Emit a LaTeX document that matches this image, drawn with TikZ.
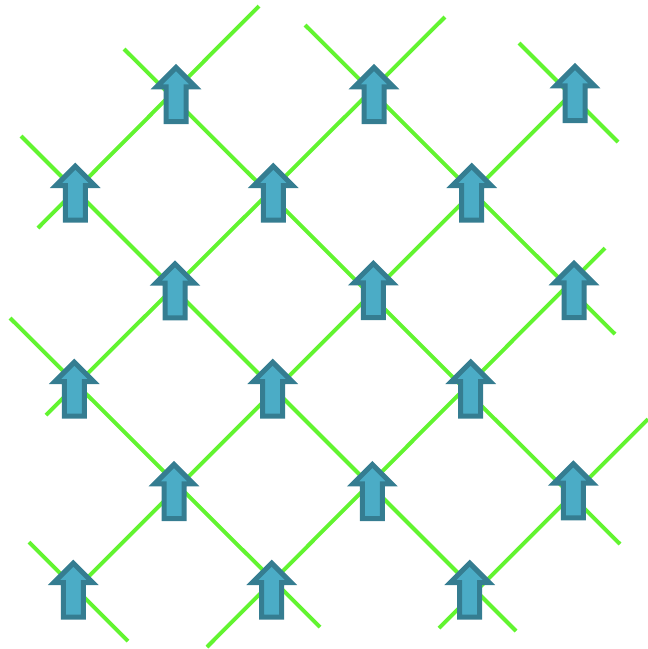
\documentclass[tikz,border=0pt]{standalone}
\definecolor{latticegreen}{RGB}{98,244,48}
\definecolor{spinfill}{RGB}{75,172,198}
\definecolor{spinedge}{RGB}{53,125,145}
\begin{document}
\begin{tikzpicture}[x=1pt,y=-1pt,
  lattice/.style={draw=latticegreen, line width=3.9pt, line cap=butt},
  spinarrow/.style={fill=spinfill, draw=spinedge, line width=5pt, line join=miter, miter limit=10},
  spin/.pic={
    \path[spinarrow] (0,3.5) -- (19.3,22.8) -- (10,22.8) -- (10,57.5)
      -- (-10,57.5) -- (-10,22.8) -- (-19.3,22.8) -- cycle;
  }]
\useasboundingbox (0,0) rectangle (648,649);

% end points of the lattice lines
% rising lines ( / )
\coordinate (p1a) at (38,228);  \coordinate (p1b) at (259,6);
\coordinate (p2a) at (46,415);  \coordinate (p2b) at (445,17);
\coordinate (p3a) at (75,590);  \coordinate (p3b) at (575,90);
\coordinate (p4a) at (439,628); \coordinate (p4b) at (648,419);
\coordinate (p5a) at (207,647); \coordinate (p5b) at (605,248);
% falling lines ( \ )
\coordinate (qaa) at (124,49);  \coordinate (qab) at (620,544);
\coordinate (qba) at (305,25);  \coordinate (qbb) at (615,334);
\coordinate (qca) at (519,43);  \coordinate (qcb) at (618,142);
\coordinate (qda) at (21,136);  \coordinate (qdb) at (516,631);
\coordinate (qea) at (10,318);  \coordinate (qeb) at (320,627);
\coordinate (qfa) at (29,542);  \coordinate (qfb) at (128,641);

\foreach \n in {p1,p2,p3,p4,p5,qa,qb,qc,qd,qe,qf}
  \draw[lattice] (\n a) -- (\n b);

% spins: tip positions
\coordinate (s11) at (176,64);    \coordinate (s12) at (374,64);    \coordinate (s13) at (575,63);
\coordinate (s21) at (75.3,162.7); \coordinate (s22) at (273.3,162.7); \coordinate (s23) at (471.7,162.7);
\coordinate (s31) at (175,260.3);  \coordinate (s32) at (373.3,260);   \coordinate (s33) at (574,260);
\coordinate (s41) at (74.3,358.7); \coordinate (s42) at (272.7,358.7); \coordinate (s43) at (470.7,358.7);
\coordinate (s51) at (174,461);    \coordinate (s52) at (372.3,461);   \coordinate (s53) at (573.3,460.3);
\coordinate (s61) at (73.3,559.7); \coordinate (s62) at (271.7,559.7); \coordinate (s63) at (469.7,559.7);

\foreach \r in {1,...,6}
  \foreach \c in {1,2,3}
    \pic at (s\r\c) {spin};
\end{tikzpicture}
\end{document}
